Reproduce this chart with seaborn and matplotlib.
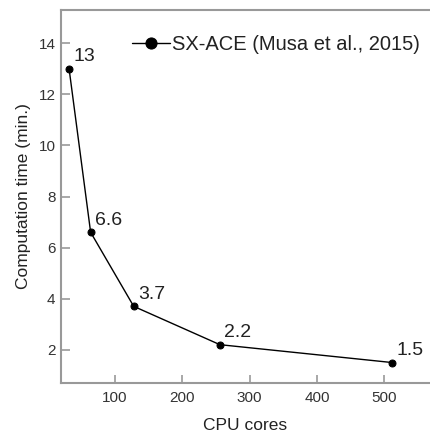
import matplotlib
matplotlib.use("Agg")
import matplotlib.pyplot as plt
import seaborn as sns
import pandas as pd

cores = [32, 64, 128, 256, 512]
times = [13, 6.6, 3.7, 2.2, 1.5]
labels = ["13", "6.6", "3.7", "2.2", "1.5"]
series_name = "SX-ACE (Musa et al., 2015)"

sns.set_theme(style="white")
plt.rcParams['font.family'] = ['Liberation Sans', 'DejaVu Sans']

df = pd.DataFrame({"CPU cores": cores, "time": times})

fig = plt.figure(figsize=(4.30, 4.33), dpi=100)
ax = fig.add_axes([61/430, 1-383/433, 1-61/430, (383-10)/433])

sns.lineplot(data=df, x="CPU cores", y="time", ax=ax, color="black",
             linewidth=1.0, marker="o", markersize=5, markeredgecolor="black",
             markerfacecolor="black", label=series_name)

for x, y, t in zip(cores, times, labels):
    ax.annotate(t, (x, y), xytext=(3, 2.5), textcoords="offset points",
                ha="left", va="bottom", fontsize=14, color="#222222")

ax.set_xlim(20, 568)
ax.set_ylim(0.7, 15.3)
ax.set_xticks([100, 200, 300, 400, 500])
ax.set_yticks([2, 4, 6, 8, 10, 12, 14])
ax.set_xlabel("CPU cores", fontsize=12.5, color="#222222", labelpad=9)
ax.set_ylabel("Computation time (min.)", fontsize=12.5, color="#222222", labelpad=5)

for side in ["left", "bottom", "top"]:
    ax.spines[side].set_color("#999999")
    ax.spines[side].set_linewidth(1.5)
ax.spines["right"].set_visible(False)
ax.tick_params(axis="both", direction="in", color="#999999", width=1.2,
               labelsize=11, labelcolor="#333333",
               bottom=True, left=True, top=False, right=False)
ax.tick_params(axis="x", length=6, pad=6)
ax.tick_params(axis="y", length=6.5, pad=4)

leg = ax.legend(loc="upper right", frameon=False, fontsize=14.5,
                handlelength=1.9, handletextpad=0.1, markerscale=1.6,
                bbox_to_anchor=(1.0, 0.96), borderaxespad=0.1)
for txt in leg.get_texts():
    txt.set_color("#222222")

fig.savefig("out.png", dpi=100)
